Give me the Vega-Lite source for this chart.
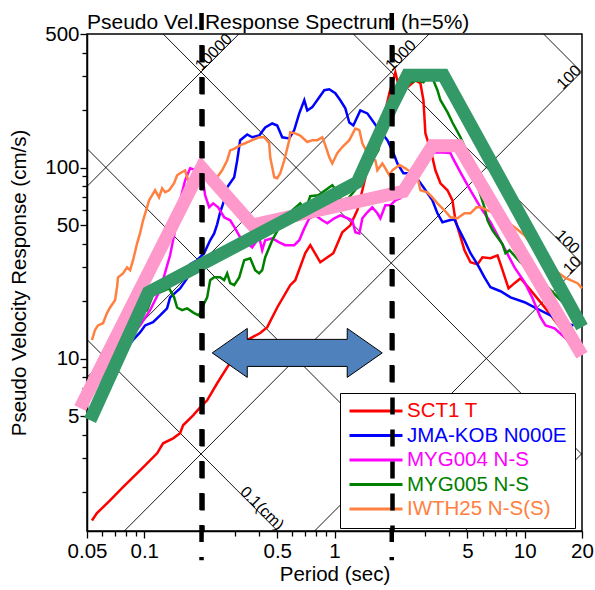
{
  "$schema": "https://vega.github.io/schema/vega-lite/v6.json",
  "width": 495,
  "height": 497,
  "autosize": {"type": "none"},
  "padding": {"left": 87, "top": 34, "right": 13, "bottom": 59},
  "background": "white",
  "title": {"text": "Pseudo Vel. Response Spectrum (h=5%)", "anchor": "start", "frame": "group", "fontSize": 21, "fontWeight": "normal", "font": "Liberation Sans", "color": "black", "baseline": "alphabetic", "offset": -39},
  "config": {
    "font": "Liberation Sans",
    "view": {"stroke": "black", "strokeWidth": 1.5},
    "axis": {"domainColor": "black", "domainWidth": 1.5, "tickColor": "black", "tickWidth": 1.3, "labelColor": "black", "titleColor": "black", "labelFontSize": 20.5, "titleFontSize": 20.5, "titleFontWeight": "normal", "labelFont": "Liberation Sans", "titleFont": "Liberation Sans", "grid": false, "labelOverlap": false, "labelFlush": false, "labelBound": false}
  },
  "datasets": {
    "diag": [
      {"id": "a1", "T": 0.05, "SV": 0.007958}, {"id": "a1", "T": 20, "SV": 3.1831},
      {"id": "a10", "T": 0.05, "SV": 0.07958}, {"id": "a10", "T": 20, "SV": 31.831},
      {"id": "a100", "T": 0.05, "SV": 0.7958}, {"id": "a100", "T": 20, "SV": 318.31},
      {"id": "a1000", "T": 0.05, "SV": 7.958}, {"id": "a1000", "T": 20, "SV": 3183.1},
      {"id": "a10000", "T": 0.05, "SV": 79.58}, {"id": "a10000", "T": 20, "SV": 31831},
      {"id": "d0.1", "T": 0.05, "SV": 12.566}, {"id": "d0.1", "T": 20, "SV": 0.031416},
      {"id": "d1", "T": 0.05, "SV": 125.66}, {"id": "d1", "T": 20, "SV": 0.31416},
      {"id": "d10", "T": 0.05, "SV": 1256.6}, {"id": "d10", "T": 20, "SV": 3.1416},
      {"id": "d100", "T": 0.05, "SV": 12566}, {"id": "d100", "T": 20, "SV": 31.416},
      {"id": "d1000", "T": 0.05, "SV": 125664}, {"id": "d1000", "T": 20, "SV": 314.16}
    ],
    "thin": [
      {"s": "SCT1 T", "T": 0.0531, "SV": 1.42}, {"s": "SCT1 T", "T": 0.0564, "SV": 1.55}, {"s": "SCT1 T", "T": 0.0661, "SV": 1.81}, {"s": "SCT1 T", "T": 0.0773, "SV": 2.12}, {"s": "SCT1 T", "T": 0.0986, "SV": 2.69}, {"s": "SCT1 T", "T": 0.1168, "SV": 3.19}, {"s": "SCT1 T", "T": 0.1256, "SV": 3.6}, {"s": "SCT1 T", "T": 0.1418, "SV": 3.82}, {"s": "SCT1 T", "T": 0.1543, "SV": 4.06}, {"s": "SCT1 T", "T": 0.16, "SV": 4.47}, {"s": "SCT1 T", "T": 0.1806, "SV": 5.04}, {"s": "SCT1 T", "T": 0.1967, "SV": 5.55}, {"s": "SCT1 T", "T": 0.2141, "SV": 6.04}, {"s": "SCT1 T", "T": 0.2416, "SV": 7.42}, {"s": "SCT1 T", "T": 0.2728, "SV": 8.99}, {"s": "SCT1 T", "T": 0.3193, "SV": 11.4}, {"s": "SCT1 T", "T": 0.3476, "SV": 12.5}, {"s": "SCT1 T", "T": 0.407, "SV": 13.6}, {"s": "SCT1 T", "T": 0.443, "SV": 14.6}, {"s": "SCT1 T", "T": 0.5, "SV": 18.5}, {"s": "SCT1 T", "T": 0.585, "SV": 24.2}, {"s": "SCT1 T", "T": 0.622, "SV": 25.7}, {"s": "SCT1 T", "T": 0.702, "SV": 35.6}, {"s": "SCT1 T", "T": 0.746, "SV": 39.2}, {"s": "SCT1 T", "T": 0.842, "SV": 31.9}, {"s": "SCT1 T", "T": 0.986, "SV": 35.6}, {"s": "SCT1 T", "T": 1.099, "SV": 45.8}, {"s": "SCT1 T", "T": 1.211, "SV": 49.8}, {"s": "SCT1 T", "T": 1.318, "SV": 59.7}, {"s": "SCT1 T", "T": 1.401, "SV": 76}, {"s": "SCT1 T", "T": 1.525, "SV": 109}, {"s": "SCT1 T", "T": 1.721, "SV": 144}, {"s": "SCT1 T", "T": 1.943, "SV": 245}, {"s": "SCT1 T", "T": 2.089, "SV": 315}, {"s": "SCT1 T", "T": 2.22, "SV": 245}, {"s": "SCT1 T", "T": 2.416, "SV": 263}, {"s": "SCT1 T", "T": 2.663, "SV": 286}, {"s": "SCT1 T", "T": 2.829, "SV": 276}, {"s": "SCT1 T", "T": 2.934, "SV": 225}, {"s": "SCT1 T", "T": 3.005, "SV": 151}, {"s": "SCT1 T", "T": 3.116, "SV": 134}, {"s": "SCT1 T", "T": 3.271, "SV": 113}, {"s": "SCT1 T", "T": 3.392, "SV": 96.7}, {"s": "SCT1 T", "T": 3.605, "SV": 82.7}, {"s": "SCT1 T", "T": 3.925, "SV": 76}, {"s": "SCT1 T", "T": 4.169, "SV": 67.3}, {"s": "SCT1 T", "T": 4.323, "SV": 52.9}, {"s": "SCT1 T", "T": 4.537, "SV": 45.2}, {"s": "SCT1 T", "T": 4.823, "SV": 36.9}, {"s": "SCT1 T", "T": 5.185, "SV": 31.9}, {"s": "SCT1 T", "T": 5.643, "SV": 31.1}, {"s": "SCT1 T", "T": 5.997, "SV": 33.9}, {"s": "SCT1 T", "T": 6.607, "SV": 33.5}, {"s": "SCT1 T", "T": 7.193, "SV": 34.7}, {"s": "SCT1 T", "T": 7.642, "SV": 29}, {"s": "SCT1 T", "T": 8.218, "SV": 23.3}, {"s": "SCT1 T", "T": 8.837, "SV": 24.8}, {"s": "SCT1 T", "T": 9.504, "SV": 26.3}, {"s": "SCT1 T", "T": 10.73, "SV": 22.8}, {"s": "SCT1 T", "T": 12.87, "SV": 18.3}, {"s": "SCT1 T", "T": 15.06, "SV": 14.9}, {"s": "SCT1 T", "T": 16.8, "SV": 12.5}, {"s": "SCT1 T", "T": 19.67, "SV": 10.8},
      {"s": "JMA-KOB N000E", "T": 0.0519, "SV": 7.51}, {"s": "JMA-KOB N000E", "T": 0.0564, "SV": 8.36}, {"s": "JMA-KOB N000E", "T": 0.0585, "SV": 8.68}, {"s": "JMA-KOB N000E", "T": 0.0685, "SV": 9.79}, {"s": "JMA-KOB N000E", "T": 0.0812, "SV": 11.4}, {"s": "JMA-KOB N000E", "T": 0.0873, "SV": 12.5}, {"s": "JMA-KOB N000E", "T": 0.095, "SV": 13.7}, {"s": "JMA-KOB N000E", "T": 0.101, "SV": 14.9}, {"s": "JMA-KOB N000E", "T": 0.1112, "SV": 15.5}, {"s": "JMA-KOB N000E", "T": 0.1211, "SV": 16.8}, {"s": "JMA-KOB N000E", "T": 0.1318, "SV": 18.3}, {"s": "JMA-KOB N000E", "T": 0.1367, "SV": 20.9}, {"s": "JMA-KOB N000E", "T": 0.1543, "SV": 23.3}, {"s": "JMA-KOB N000E", "T": 0.168, "SV": 26.3}, {"s": "JMA-KOB N000E", "T": 0.1742, "SV": 31.1}, {"s": "JMA-KOB N000E", "T": 0.1896, "SV": 32.7}, {"s": "JMA-KOB N000E", "T": 0.2064, "SV": 35.6}, {"s": "JMA-KOB N000E", "T": 0.222, "SV": 41.6}, {"s": "JMA-KOB N000E", "T": 0.2331, "SV": 45.2}, {"s": "JMA-KOB N000E", "T": 0.2416, "SV": 50.4}, {"s": "JMA-KOB N000E", "T": 0.2506, "SV": 58.3}, {"s": "JMA-KOB N000E", "T": 0.263, "SV": 67.3}, {"s": "JMA-KOB N000E", "T": 0.2728, "SV": 78.8}, {"s": "JMA-KOB N000E", "T": 0.297, "SV": 88.9}, {"s": "JMA-KOB N000E", "T": 0.308, "SV": 109}, {"s": "JMA-KOB N000E", "T": 0.3193, "SV": 139}, {"s": "JMA-KOB N000E", "T": 0.3476, "SV": 149}, {"s": "JMA-KOB N000E", "T": 0.3693, "SV": 144}, {"s": "JMA-KOB N000E", "T": 0.4019, "SV": 147}, {"s": "JMA-KOB N000E", "T": 0.4323, "SV": 162}, {"s": "JMA-KOB N000E", "T": 0.4706, "SV": 170}, {"s": "JMA-KOB N000E", "T": 0.4999, "SV": 166}, {"s": "JMA-KOB N000E", "T": 0.5312, "SV": 144}, {"s": "JMA-KOB N000E", "T": 0.5782, "SV": 142}, {"s": "JMA-KOB N000E", "T": 0.6143, "SV": 157}, {"s": "JMA-KOB N000E", "T": 0.6528, "SV": 192}, {"s": "JMA-KOB N000E", "T": 0.6937, "SV": 225}, {"s": "JMA-KOB N000E", "T": 0.7192, "SV": 199}, {"s": "JMA-KOB N000E", "T": 0.7642, "SV": 207}, {"s": "JMA-KOB N000E", "T": 0.8318, "SV": 233}, {"s": "JMA-KOB N000E", "T": 0.8837, "SV": 254}, {"s": "JMA-KOB N000E", "T": 0.9389, "SV": 257}, {"s": "JMA-KOB N000E", "T": 1.0097, "SV": 245}, {"s": "JMA-KOB N000E", "T": 1.073, "SV": 225}, {"s": "JMA-KOB N000E", "T": 1.14, "SV": 204}, {"s": "JMA-KOB N000E", "T": 1.196, "SV": 172}, {"s": "JMA-KOB N000E", "T": 1.256, "SV": 166}, {"s": "JMA-KOB N000E", "T": 1.367, "SV": 199}, {"s": "JMA-KOB N000E", "T": 1.488, "SV": 192}, {"s": "JMA-KOB N000E", "T": 1.68, "SV": 162}, {"s": "JMA-KOB N000E", "T": 1.896, "SV": 139}, {"s": "JMA-KOB N000E", "T": 2.04, "SV": 119}, {"s": "JMA-KOB N000E", "T": 2.141, "SV": 105}, {"s": "JMA-KOB N000E", "T": 2.302, "SV": 93.3}, {"s": "JMA-KOB N000E", "T": 2.598, "SV": 93.3}, {"s": "JMA-KOB N000E", "T": 2.934, "SV": 78.8}, {"s": "JMA-KOB N000E", "T": 3.271, "SV": 67.3}, {"s": "JMA-KOB N000E", "T": 3.476, "SV": 57.6}, {"s": "JMA-KOB N000E", "T": 3.693, "SV": 51.7}, {"s": "JMA-KOB N000E", "T": 4.019, "SV": 52.9}, {"s": "JMA-KOB N000E", "T": 4.271, "SV": 53.5}, {"s": "JMA-KOB N000E", "T": 4.482, "SV": 48}, {"s": "JMA-KOB N000E", "T": 4.823, "SV": 41.6}, {"s": "JMA-KOB N000E", "T": 5.185, "SV": 35.6}, {"s": "JMA-KOB N000E", "T": 5.643, "SV": 31.1}, {"s": "JMA-KOB N000E", "T": 6.143, "SV": 26.6}, {"s": "JMA-KOB N000E", "T": 6.607, "SV": 23.6}, {"s": "JMA-KOB N000E", "T": 7.459, "SV": 22.5}, {"s": "JMA-KOB N000E", "T": 8.42, "SV": 20.9}, {"s": "JMA-KOB N000E", "T": 9.975, "SV": 19.7}, {"s": "JMA-KOB N000E", "T": 11.26, "SV": 18.5}, {"s": "JMA-KOB N000E", "T": 13.67, "SV": 16.8}, {"s": "JMA-KOB N000E", "T": 15.43, "SV": 15.5}, {"s": "JMA-KOB N000E", "T": 18.06, "SV": 14.9},
      {"s": "MYG004 N-S", "T": 0.0519, "SV": 7.24}, {"s": "MYG004 N-S", "T": 0.0585, "SV": 8.47}, {"s": "MYG004 N-S", "T": 0.0661, "SV": 9.55}, {"s": "MYG004 N-S", "T": 0.0746, "SV": 11}, {"s": "MYG004 N-S", "T": 0.0842, "SV": 12.8}, {"s": "MYG004 N-S", "T": 0.095, "SV": 14.9}, {"s": "MYG004 N-S", "T": 0.1073, "SV": 17.9}, {"s": "MYG004 N-S", "T": 0.1211, "SV": 22.8}, {"s": "MYG004 N-S", "T": 0.1367, "SV": 34.7}, {"s": "MYG004 N-S", "T": 0.1452, "SV": 46.9}, {"s": "MYG004 N-S", "T": 0.1543, "SV": 67.3}, {"s": "MYG004 N-S", "T": 0.164, "SV": 85.7}, {"s": "MYG004 N-S", "T": 0.1742, "SV": 99}, {"s": "MYG004 N-S", "T": 0.1896, "SV": 96.7}, {"s": "MYG004 N-S", "T": 0.2015, "SV": 92.1}, {"s": "MYG004 N-S", "T": 0.2089, "SV": 71.5}, {"s": "MYG004 N-S", "T": 0.2194, "SV": 61.9}, {"s": "MYG004 N-S", "T": 0.2302, "SV": 64.9}, {"s": "MYG004 N-S", "T": 0.2445, "SV": 61.9}, {"s": "MYG004 N-S", "T": 0.263, "SV": 54.9}, {"s": "MYG004 N-S", "T": 0.2829, "SV": 52.9}, {"s": "MYG004 N-S", "T": 0.3005, "SV": 48}, {"s": "MYG004 N-S", "T": 0.3193, "SV": 43.1}, {"s": "MYG004 N-S", "T": 0.3476, "SV": 40.1}, {"s": "MYG004 N-S", "T": 0.3693, "SV": 38.2}, {"s": "MYG004 N-S", "T": 0.4019, "SV": 43.1}, {"s": "MYG004 N-S", "T": 0.4169, "SV": 36.9}, {"s": "MYG004 N-S", "T": 0.4323, "SV": 41.6}, {"s": "MYG004 N-S", "T": 0.4706, "SV": 42.6}, {"s": "MYG004 N-S", "T": 0.5123, "SV": 40.6}, {"s": "MYG004 N-S", "T": 0.551, "SV": 39.2}, {"s": "MYG004 N-S", "T": 0.6143, "SV": 39.2}, {"s": "MYG004 N-S", "T": 0.6528, "SV": 41.6}, {"s": "MYG004 N-S", "T": 0.6937, "SV": 48}, {"s": "MYG004 N-S", "T": 0.7368, "SV": 54.2}, {"s": "MYG004 N-S", "T": 0.7924, "SV": 56.2}, {"s": "MYG004 N-S", "T": 0.8626, "SV": 52.9}, {"s": "MYG004 N-S", "T": 0.9165, "SV": 51}, {"s": "MYG004 N-S", "T": 0.9976, "SV": 54.2}, {"s": "MYG004 N-S", "T": 1.073, "SV": 56.2}, {"s": "MYG004 N-S", "T": 1.14, "SV": 54.9}, {"s": "MYG004 N-S", "T": 1.241, "SV": 52.9}, {"s": "MYG004 N-S", "T": 1.287, "SV": 45.8}, {"s": "MYG004 N-S", "T": 1.351, "SV": 45.2}, {"s": "MYG004 N-S", "T": 1.401, "SV": 54.2}, {"s": "MYG004 N-S", "T": 1.488, "SV": 58.3}, {"s": "MYG004 N-S", "T": 1.58, "SV": 61.9}, {"s": "MYG004 N-S", "T": 1.68, "SV": 57.6}, {"s": "MYG004 N-S", "T": 1.742, "SV": 54.2}, {"s": "MYG004 N-S", "T": 1.851, "SV": 63.4}, {"s": "MYG004 N-S", "T": 1.967, "SV": 63.4}, {"s": "MYG004 N-S", "T": 2.089, "SV": 67.3}, {"s": "MYG004 N-S", "T": 2.22, "SV": 69}, {"s": "MYG004 N-S", "T": 2.506, "SV": 80.7}, {"s": "MYG004 N-S", "T": 2.829, "SV": 96.7}, {"s": "MYG004 N-S", "T": 3.08, "SV": 109}, {"s": "MYG004 N-S", "T": 3.271, "SV": 119}, {"s": "MYG004 N-S", "T": 3.476, "SV": 120}, {"s": "MYG004 N-S", "T": 3.737, "SV": 120}, {"s": "MYG004 N-S", "T": 4.07, "SV": 119}, {"s": "MYG004 N-S", "T": 4.169, "SV": 113}, {"s": "MYG004 N-S", "T": 4.593, "SV": 94.4}, {"s": "MYG004 N-S", "T": 5.185, "SV": 76}, {"s": "MYG004 N-S", "T": 5.853, "SV": 61.9}, {"s": "MYG004 N-S", "T": 6.607, "SV": 51.7}, {"s": "MYG004 N-S", "T": 7.193, "SV": 44.2}, {"s": "MYG004 N-S", "T": 7.924, "SV": 36.9}, {"s": "MYG004 N-S", "T": 8.837, "SV": 30}, {"s": "MYG004 N-S", "T": 9.975, "SV": 25.1}, {"s": "MYG004 N-S", "T": 10.99, "SV": 20.7}, {"s": "MYG004 N-S", "T": 12.11, "SV": 16.4}, {"s": "MYG004 N-S", "T": 12.87, "SV": 14.9}, {"s": "MYG004 N-S", "T": 14.35, "SV": 14.4}, {"s": "MYG004 N-S", "T": 16.2, "SV": 12.9}, {"s": "MYG004 N-S", "T": 18.29, "SV": 11.4}, {"s": "MYG004 N-S", "T": 19.67, "SV": 10.8},
      {"s": "MYG005 N-S", "T": 0.0519, "SV": 6.65}, {"s": "MYG005 N-S", "T": 0.0585, "SV": 7.69}, {"s": "MYG005 N-S", "T": 0.0661, "SV": 9.55}, {"s": "MYG005 N-S", "T": 0.0702, "SV": 10.8}, {"s": "MYG005 N-S", "T": 0.0746, "SV": 11.4}, {"s": "MYG005 N-S", "T": 0.0812, "SV": 15.5}, {"s": "MYG005 N-S", "T": 0.0873, "SV": 16.4}, {"s": "MYG005 N-S", "T": 0.095, "SV": 17.3}, {"s": "MYG005 N-S", "T": 0.1034, "SV": 17.9}, {"s": "MYG005 N-S", "T": 0.1099, "SV": 20.9}, {"s": "MYG005 N-S", "T": 0.114, "SV": 22.8}, {"s": "MYG005 N-S", "T": 0.1211, "SV": 22.2}, {"s": "MYG005 N-S", "T": 0.1351, "SV": 23.3}, {"s": "MYG005 N-S", "T": 0.1435, "SV": 20.9}, {"s": "MYG005 N-S", "T": 0.1488, "SV": 18.5}, {"s": "MYG005 N-S", "T": 0.158, "SV": 17.9}, {"s": "MYG005 N-S", "T": 0.168, "SV": 18.3}, {"s": "MYG005 N-S", "T": 0.1828, "SV": 17.3}, {"s": "MYG005 N-S", "T": 0.1943, "SV": 16.8}, {"s": "MYG005 N-S", "T": 0.2015, "SV": 18.5}, {"s": "MYG005 N-S", "T": 0.2141, "SV": 20.9}, {"s": "MYG005 N-S", "T": 0.222, "SV": 25.7}, {"s": "MYG005 N-S", "T": 0.2331, "SV": 26.6}, {"s": "MYG005 N-S", "T": 0.2506, "SV": 26.6}, {"s": "MYG005 N-S", "T": 0.263, "SV": 25.7}, {"s": "MYG005 N-S", "T": 0.2728, "SV": 27.9}, {"s": "MYG005 N-S", "T": 0.2829, "SV": 24.8}, {"s": "MYG005 N-S", "T": 0.297, "SV": 24.2}, {"s": "MYG005 N-S", "T": 0.3155, "SV": 26.6}, {"s": "MYG005 N-S", "T": 0.3352, "SV": 32.7}, {"s": "MYG005 N-S", "T": 0.3605, "SV": 33.5}, {"s": "MYG005 N-S", "T": 0.383, "SV": 29}, {"s": "MYG005 N-S", "T": 0.4019, "SV": 27.9}, {"s": "MYG005 N-S", "T": 0.4169, "SV": 29}, {"s": "MYG005 N-S", "T": 0.4323, "SV": 33.9}, {"s": "MYG005 N-S", "T": 0.4706, "SV": 41.6}, {"s": "MYG005 N-S", "T": 0.5123, "SV": 48.6}, {"s": "MYG005 N-S", "T": 0.551, "SV": 51}, {"s": "MYG005 N-S", "T": 0.5997, "SV": 59.7}, {"s": "MYG005 N-S", "T": 0.6607, "SV": 64.9}, {"s": "MYG005 N-S", "T": 0.702, "SV": 59.7}, {"s": "MYG005 N-S", "T": 0.7459, "SV": 70.7}, {"s": "MYG005 N-S", "T": 0.8218, "SV": 71.5}, {"s": "MYG005 N-S", "T": 0.8946, "SV": 76}, {"s": "MYG005 N-S", "T": 0.9737, "SV": 80.7}, {"s": "MYG005 N-S", "T": 1.022, "SV": 76}, {"s": "MYG005 N-S", "T": 1.073, "SV": 67.3}, {"s": "MYG005 N-S", "T": 1.182, "SV": 69}, {"s": "MYG005 N-S", "T": 1.318, "SV": 78.8}, {"s": "MYG005 N-S", "T": 1.452, "SV": 96.7}, {"s": "MYG005 N-S", "T": 1.58, "SV": 109}, {"s": "MYG005 N-S", "T": 1.7, "SV": 123}, {"s": "MYG005 N-S", "T": 1.806, "SV": 166}, {"s": "MYG005 N-S", "T": 1.967, "SV": 212}, {"s": "MYG005 N-S", "T": 2.22, "SV": 254}, {"s": "MYG005 N-S", "T": 2.416, "SV": 276}, {"s": "MYG005 N-S", "T": 2.728, "SV": 286}, {"s": "MYG005 N-S", "T": 2.934, "SV": 279}, {"s": "MYG005 N-S", "T": 3.08, "SV": 297}, {"s": "MYG005 N-S", "T": 3.311, "SV": 286}, {"s": "MYG005 N-S", "T": 3.476, "SV": 254}, {"s": "MYG005 N-S", "T": 3.605, "SV": 225}, {"s": "MYG005 N-S", "T": 3.925, "SV": 195}, {"s": "MYG005 N-S", "T": 4.169, "SV": 172}, {"s": "MYG005 N-S", "T": 4.593, "SV": 144}, {"s": "MYG005 N-S", "T": 4.999, "SV": 119}, {"s": "MYG005 N-S", "T": 5.248, "SV": 103}, {"s": "MYG005 N-S", "T": 5.643, "SV": 80.7}, {"s": "MYG005 N-S", "T": 6.143, "SV": 61.9}, {"s": "MYG005 N-S", "T": 6.372, "SV": 52.9}, {"s": "MYG005 N-S", "T": 6.767, "SV": 46.9}, {"s": "MYG005 N-S", "T": 7.193, "SV": 43.1}, {"s": "MYG005 N-S", "T": 7.642, "SV": 39.6}, {"s": "MYG005 N-S", "T": 7.924, "SV": 35.6}, {"s": "MYG005 N-S", "T": 8.318, "SV": 36.9}, {"s": "MYG005 N-S", "T": 9.504, "SV": 31.9}, {"s": "MYG005 N-S", "T": 11.4, "SV": 27.3}, {"s": "MYG005 N-S", "T": 13.67, "SV": 22.8}, {"s": "MYG005 N-S", "T": 15.43, "SV": 20.2}, {"s": "MYG005 N-S", "T": 17.85, "SV": 17.5},
      {"s": "IWTH25 N-S(S)", "T": 0.0531, "SV": 12.5}, {"s": "IWTH25 N-S(S)", "T": 0.0551, "SV": 14.1}, {"s": "IWTH25 N-S(S)", "T": 0.0571, "SV": 14.9}, {"s": "IWTH25 N-S(S)", "T": 0.0607, "SV": 15.3}, {"s": "IWTH25 N-S(S)", "T": 0.0637, "SV": 17.3}, {"s": "IWTH25 N-S(S)", "T": 0.0661, "SV": 18.5}, {"s": "IWTH25 N-S(S)", "T": 0.0702, "SV": 20.2}, {"s": "IWTH25 N-S(S)", "T": 0.0719, "SV": 23.6}, {"s": "IWTH25 N-S(S)", "T": 0.0728, "SV": 26.6}, {"s": "IWTH25 N-S(S)", "T": 0.0773, "SV": 27.9}, {"s": "IWTH25 N-S(S)", "T": 0.0812, "SV": 30}, {"s": "IWTH25 N-S(S)", "T": 0.0842, "SV": 29}, {"s": "IWTH25 N-S(S)", "T": 0.0873, "SV": 32.7}, {"s": "IWTH25 N-S(S)", "T": 0.0917, "SV": 40.1}, {"s": "IWTH25 N-S(S)", "T": 0.095, "SV": 45.2}, {"s": "IWTH25 N-S(S)", "T": 0.0986, "SV": 52.9}, {"s": "IWTH25 N-S(S)", "T": 0.1034, "SV": 61.9}, {"s": "IWTH25 N-S(S)", "T": 0.106, "SV": 67.3}, {"s": "IWTH25 N-S(S)", "T": 0.1099, "SV": 71.5}, {"s": "IWTH25 N-S(S)", "T": 0.114, "SV": 76}, {"s": "IWTH25 N-S(S)", "T": 0.1196, "SV": 69.8}, {"s": "IWTH25 N-S(S)", "T": 0.1241, "SV": 77.8}, {"s": "IWTH25 N-S(S)", "T": 0.1287, "SV": 74.2}, {"s": "IWTH25 N-S(S)", "T": 0.1351, "SV": 76}, {"s": "IWTH25 N-S(S)", "T": 0.1435, "SV": 82.7}, {"s": "IWTH25 N-S(S)", "T": 0.1488, "SV": 91}, {"s": "IWTH25 N-S(S)", "T": 0.1543, "SV": 93.3}, {"s": "IWTH25 N-S(S)", "T": 0.164, "SV": 96.7}, {"s": "IWTH25 N-S(S)", "T": 0.168, "SV": 88.9}, {"s": "IWTH25 N-S(S)", "T": 0.1742, "SV": 80.7}, {"s": "IWTH25 N-S(S)", "T": 0.1828, "SV": 82.7}, {"s": "IWTH25 N-S(S)", "T": 0.1967, "SV": 82.7}, {"s": "IWTH25 N-S(S)", "T": 0.2064, "SV": 88.9}, {"s": "IWTH25 N-S(S)", "T": 0.2194, "SV": 93.3}, {"s": "IWTH25 N-S(S)", "T": 0.2275, "SV": 85.7}, {"s": "IWTH25 N-S(S)", "T": 0.2416, "SV": 88.9}, {"s": "IWTH25 N-S(S)", "T": 0.2567, "SV": 96.7}, {"s": "IWTH25 N-S(S)", "T": 0.2728, "SV": 109}, {"s": "IWTH25 N-S(S)", "T": 0.2829, "SV": 123}, {"s": "IWTH25 N-S(S)", "T": 0.3005, "SV": 126}, {"s": "IWTH25 N-S(S)", "T": 0.3193, "SV": 131}, {"s": "IWTH25 N-S(S)", "T": 0.3392, "SV": 134}, {"s": "IWTH25 N-S(S)", "T": 0.3693, "SV": 139}, {"s": "IWTH25 N-S(S)", "T": 0.4019, "SV": 144}, {"s": "IWTH25 N-S(S)", "T": 0.4271, "SV": 144}, {"s": "IWTH25 N-S(S)", "T": 0.4537, "SV": 134}, {"s": "IWTH25 N-S(S)", "T": 0.4593, "SV": 113}, {"s": "IWTH25 N-S(S)", "T": 0.4823, "SV": 88.9}, {"s": "IWTH25 N-S(S)", "T": 0.4999, "SV": 87.8}, {"s": "IWTH25 N-S(S)", "T": 0.5185, "SV": 93.3}, {"s": "IWTH25 N-S(S)", "T": 0.5443, "SV": 109}, {"s": "IWTH25 N-S(S)", "T": 0.5782, "SV": 139}, {"s": "IWTH25 N-S(S)", "T": 0.5853, "SV": 153}, {"s": "IWTH25 N-S(S)", "T": 0.622, "SV": 151}, {"s": "IWTH25 N-S(S)", "T": 0.6607, "SV": 147}, {"s": "IWTH25 N-S(S)", "T": 0.7192, "SV": 136}, {"s": "IWTH25 N-S(S)", "T": 0.7642, "SV": 139}, {"s": "IWTH25 N-S(S)", "T": 0.812, "SV": 139}, {"s": "IWTH25 N-S(S)", "T": 0.8626, "SV": 144}, {"s": "IWTH25 N-S(S)", "T": 0.8946, "SV": 131}, {"s": "IWTH25 N-S(S)", "T": 0.9389, "SV": 113}, {"s": "IWTH25 N-S(S)", "T": 0.9737, "SV": 105}, {"s": "IWTH25 N-S(S)", "T": 1.034, "SV": 119}, {"s": "IWTH25 N-S(S)", "T": 1.099, "SV": 128}, {"s": "IWTH25 N-S(S)", "T": 1.196, "SV": 139}, {"s": "IWTH25 N-S(S)", "T": 1.287, "SV": 160}, {"s": "IWTH25 N-S(S)", "T": 1.351, "SV": 157}, {"s": "IWTH25 N-S(S)", "T": 1.401, "SV": 134}, {"s": "IWTH25 N-S(S)", "T": 1.525, "SV": 113}, {"s": "IWTH25 N-S(S)", "T": 1.64, "SV": 109}, {"s": "IWTH25 N-S(S)", "T": 1.68, "SV": 96.7}, {"s": "IWTH25 N-S(S)", "T": 1.785, "SV": 105}, {"s": "IWTH25 N-S(S)", "T": 1.851, "SV": 99}, {"s": "IWTH25 N-S(S)", "T": 1.943, "SV": 91}, {"s": "IWTH25 N-S(S)", "T": 2.015, "SV": 96.7}, {"s": "IWTH25 N-S(S)", "T": 2.194, "SV": 103}, {"s": "IWTH25 N-S(S)", "T": 2.358, "SV": 99}, {"s": "IWTH25 N-S(S)", "T": 2.567, "SV": 93.3}, {"s": "IWTH25 N-S(S)", "T": 2.728, "SV": 88.9}, {"s": "IWTH25 N-S(S)", "T": 2.829, "SV": 76}, {"s": "IWTH25 N-S(S)", "T": 3.08, "SV": 74.2}, {"s": "IWTH25 N-S(S)", "T": 3.271, "SV": 69.8}, {"s": "IWTH25 N-S(S)", "T": 3.476, "SV": 64.9}, {"s": "IWTH25 N-S(S)", "T": 3.784, "SV": 59.7}, {"s": "IWTH25 N-S(S)", "T": 4.07, "SV": 54.9}, {"s": "IWTH25 N-S(S)", "T": 4.429, "SV": 54.2}, {"s": "IWTH25 N-S(S)", "T": 4.823, "SV": 57.6}, {"s": "IWTH25 N-S(S)", "T": 5.185, "SV": 57.6}, {"s": "IWTH25 N-S(S)", "T": 5.575, "SV": 61.9}, {"s": "IWTH25 N-S(S)", "T": 5.924, "SV": 61.9}, {"s": "IWTH25 N-S(S)", "T": 6.372, "SV": 59.7}, {"s": "IWTH25 N-S(S)", "T": 6.937, "SV": 57.6}, {"s": "IWTH25 N-S(S)", "T": 7.459, "SV": 54.9}, {"s": "IWTH25 N-S(S)", "T": 8.12, "SV": 51.7}, {"s": "IWTH25 N-S(S)", "T": 8.837, "SV": 48.6}, {"s": "IWTH25 N-S(S)", "T": 9.975, "SV": 44.2}, {"s": "IWTH25 N-S(S)", "T": 10.73, "SV": 40.1}, {"s": "IWTH25 N-S(S)", "T": 11.68, "SV": 35.6}, {"s": "IWTH25 N-S(S)", "T": 12.87, "SV": 32.7}, {"s": "IWTH25 N-S(S)", "T": 13.67, "SV": 29.7}, {"s": "IWTH25 N-S(S)", "T": 14.88, "SV": 28.3}, {"s": "IWTH25 N-S(S)", "T": 16.2, "SV": 26.6}, {"s": "IWTH25 N-S(S)", "T": 17.42, "SV": 25.7}, {"s": "IWTH25 N-S(S)", "T": 18.96, "SV": 24.8}, {"s": "IWTH25 N-S(S)", "T": 20, "SV": 23.3}
    ]
  },
  "encoding": {
    "x": {
      "field": "T", "type": "quantitative",
      "scale": {"type": "log", "domain": [0.05, 20], "nice": false},
      "axis": {
        "title": "Period (sec)",
        "values": [0.05, 0.06, 0.07, 0.08, 0.09, 0.1, 0.2, 0.3, 0.4, 0.5, 0.6, 0.7, 0.8, 0.9, 1, 2, 3, 4, 5, 6, 7, 8, 9, 10, 20],
        "labelExpr": "indexof([0.05, 0.1, 0.5, 1, 5, 10, 20], datum.value) >= 0 ? '' + datum.value : ''",
        "tickSize": {"condition": {"test": "indexof([0.05, 0.1, 0.5, 1, 5, 10, 20], datum.value) >= 0", "value": 7}, "value": 5},
        "labelPadding": 3,
        "titlePadding": 3,
        "grid": true,
        "gridColor": "black",
        "gridWidth": 4.5,
        "gridDash": [17, 15],
        "gridDashOffset": 21,
        "gridOpacity": {"condition": {"test": "datum.value == 0.2 || datum.value == 2", "value": 1}, "value": 0},
        "zindex": 2
      }
    },
    "y": {
      "field": "SV", "type": "quantitative",
      "scale": {"type": "log", "domain": [1.25, 500], "nice": false},
      "axis": {
        "title": "Pseudo Velocity Response (cm/s)",
        "values": [2, 3, 4, 5, 6, 7, 8, 9, 10, 20, 30, 40, 50, 60, 70, 80, 90, 100, 200, 300, 400, 500],
        "labelExpr": "indexof([5, 10, 50, 100, 500], datum.value) >= 0 ? '' + datum.value : ''",
        "tickSize": {"condition": {"test": "indexof([5, 10, 50, 100, 500], datum.value) >= 0", "value": 7}, "value": 5},
        "labelPadding": 1,
        "titlePadding": 15
      }
    }
  },
  "layer": [
    {
      "data": {"name": "diag"},
      "mark": {"type": "line", "clip": true, "color": "black", "strokeWidth": 0.9},
      "encoding": {"detail": {"field": "id"}}
    },
    {
      "data": {"values": [{"label": "10000", "T": 0.2, "SV": 318.3}, {"label": "1000", "T": 2, "SV": 318.3}]},
      "mark": {"type": "text", "angle": 315, "align": "left", "baseline": "alphabetic", "fontSize": 16, "font": "Liberation Sans", "color": "black"},
      "encoding": {"text": {"field": "label"}}
    },
    {
      "data": {"values": [{"label": "100", "T": 20, "SV": 318.3}, {"label": "10", "T": 20, "SV": 31.83}]},
      "mark": {"type": "text", "angle": 315, "align": "right", "baseline": "alphabetic", "fontSize": 16, "font": "Liberation Sans", "color": "black"},
      "encoding": {"text": {"field": "label"}}
    },
    {
      "data": {"values": [{"label": "100", "T": 18, "SV": 34.91}, {"label": "0.1(cm)", "T": 0.5027, "SV": 1.25}]},
      "mark": {"type": "text", "angle": 45, "align": "right", "baseline": "alphabetic", "fontSize": 16, "font": "Liberation Sans", "color": "black"},
      "encoding": {"text": {"field": "label"}}
    },
    {
      "data": {"name": "thin"},
      "mark": {"type": "line", "strokeWidth": 2.5},
      "encoding": {
        "color": {
          "field": "s", "type": "nominal",
          "scale": {"domain": ["SCT1 T", "JMA-KOB N000E", "MYG004 N-S", "MYG005 N-S", "IWTH25 N-S(S)"], "range": ["#FF0000", "#0000FF", "#FF00FF", "#008000", "#FF8040"]},
          "legend": {
            "orient": "none", "legendX": 253, "legendY": 359, "title": null,
            "symbolType": "stroke", "symbolSize": 2809, "symbolStrokeWidth": 3,
            "clipHeight": 20, "rowPadding": 3.5, "padding": 8,
            "labelFontSize": 20.5, "labelFont": "Liberation Sans", "labelOffset": 3,
            "strokeColor": "black", "fillColor": "white", "zindex": 1,
            "encode": {"labels": {"update": {"fill": {"scale": "color", "field": "value"}}}}
          }
        }
      }
    },
    {
      "data": {"values": [{"T": 0.046, "SV": 5.5}, {"T": 0.2, "SV": 100}, {"T": 0.37, "SV": 50}, {"T": 2.3, "SV": 75}, {"T": 3.27, "SV": 130}, {"T": 4.48, "SV": 130}, {"T": 20, "SV": 10.4}]},
      "mark": {"type": "line", "color": "#FF99CC", "strokeWidth": 13}
    },
    {
      "data": {"values": [{"T": 0.0519, "SV": 4.75}, {"T": 0.105, "SV": 22.2}, {"T": 1.318, "SV": 83.7}, {"T": 2.015, "SV": 212}, {"T": 2.416, "SV": 304}, {"T": 3.737, "SV": 304}, {"T": 20, "SV": 14.6}]},
      "mark": {"type": "line", "color": "#339966", "strokeWidth": 13}
    },
    {
      "data": {"values": [{"T": 0.637, "SV": 10.7}]},
      "mark": {"type": "point", "shape": "M-1,0L-0.588,-0.288L-0.588,-0.159L0.588,-0.159L0.588,-0.288L1,0L0.588,0.288L0.588,0.159L-0.588,0.159L-0.588,0.288Z", "size": 28900, "filled": true, "fill": "#4F81BD", "stroke": "black", "strokeWidth": 1, "opacity": 1}
    },
    {
      "data": {"values": [{"T": 0.2, "top": 644, "bottom": 0.878}, {"T": 2, "top": 644, "bottom": 0.878}]},
      "mark": {"type": "rule", "clip": false, "strokeDash": [17, 15], "strokeWidth": 4.5, "color": "black"},
      "encoding": {"y": {"field": "top", "type": "quantitative"}, "y2": {"field": "bottom"}}
    }
  ]
}
